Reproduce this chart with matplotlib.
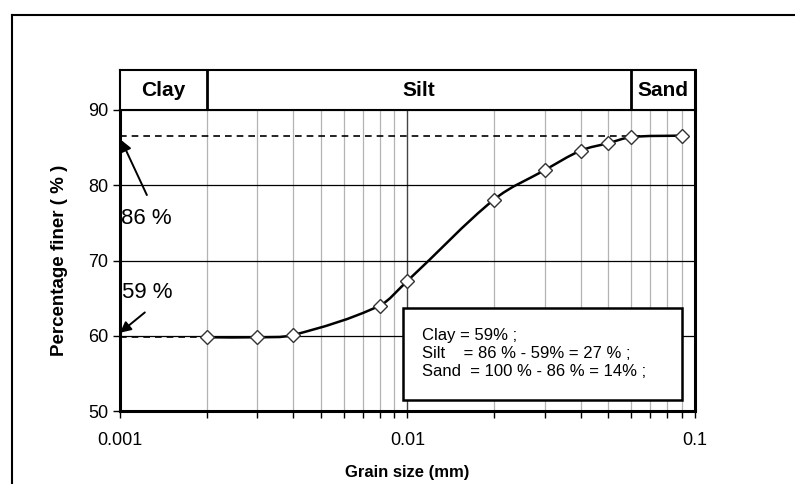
import numpy as np
import matplotlib
matplotlib.use("Agg")
import matplotlib.pyplot as plt
from matplotlib.lines import Line2D
from matplotlib.path import Path
from matplotlib.patches import PathPatch, Rectangle

plt.rcParams['font.family'] = ['Liberation Sans', 'DejaVu Sans']

# Courbe granulométrique (tamisat en % selon le diamètre)
grain_mm = [0.002, 0.003, 0.004, 0.008, 0.01, 0.02, 0.03, 0.04, 0.05, 0.06, 0.09]
finer_pct = [59.8, 59.8, 60.1, 64.0, 67.3, 78.1, 82.0, 84.6, 85.6, 86.4, 86.6]

# Limites des classes de sol
class_names = ["Clay", "Silt", "Sand"]
class_bounds = [0.001, 0.002, 0.06, 0.1]

clay_pct = 59.8
fines_pct = 86.6
box_lines = ["Clay = 59% ;",
             "Silt    = 86 % - 59% = 27 % ;",
             "Sand  = 100 % - 86 % = 14% ;"]


def smooth_path(xs, ys):
    # courbe lissée (Hermite -> Bézier), calculée dans l'espace log(x)
    lx = np.log10(xs)
    y = np.asarray(ys, float)
    n = len(lx)
    m = np.zeros(n)
    m[0] = (y[1] - y[0]) / (lx[1] - lx[0])
    m[-1] = (y[-1] - y[-2]) / (lx[-1] - lx[-2])
    for i in range(1, n - 1):
        m[i] = (y[i + 1] - y[i - 1]) / (lx[i + 1] - lx[i - 1])
    verts = [(lx[0], y[0])]
    codes = [Path.MOVETO]
    for i in range(n - 1):
        h = (lx[i + 1] - lx[i]) / 3.0
        verts += [(lx[i] + h, y[i] + h * m[i]),
                  (lx[i + 1] - h, y[i + 1] - h * m[i + 1]),
                  (lx[i + 1], y[i + 1])]
        codes += [Path.CURVE4] * 3
    verts = np.array(verts)
    verts[:, 0] = 10 ** verts[:, 0]
    return Path(verts, codes)


fig = plt.figure(figsize=(7.95, 4.84), dpi=100)

# cadre extérieur
fig.add_artist(Line2D([12 / 795, 1.0], [1 - 15 / 484, 1 - 15 / 484],
                      transform=fig.transFigure, color="black", lw=1.5))
fig.add_artist(Line2D([12 / 795, 12 / 795], [0.0, 1 - 15 / 484],
                      transform=fig.transFigure, color="black", lw=1.5))

ax = fig.add_axes([120 / 795, 1 - 411 / 484, 575 / 795, 301 / 484])
ax.set_xscale("log")
ax.set_xlim(0.001, 0.1)
ax.set_ylim(50, 90)

# grille
minor = [k * 10.0 ** e for e in (-3, -2) for k in range(2, 10)]
for xv in minor:
    ax.axvline(xv, color="#b4b4b4", lw=0.9, zorder=0)
ax.axvline(0.01, color="#444444", lw=1.0, zorder=0)
for yv in (60, 70, 80):
    ax.axhline(yv, color="black", lw=0.9, zorder=0)

ax.set_xticks([0.001, 0.01, 0.1])
ax.set_xticklabels(["0.001", "0.01", "0.1"])
ax.set_xticks(minor, minor=True)
ax.xaxis.set_minor_formatter(plt.NullFormatter())
ax.set_yticks([50, 60, 70, 80, 90])
ax.tick_params(axis="both", which="both", direction="out", length=5,
               width=1.0, labelsize=13, colors="black")
ax.tick_params(axis="x", pad=10)

for side in ("left", "bottom", "right"):
    ax.spines[side].set_linewidth(2.2)
ax.spines["top"].set_linewidth(1.5)

# lignes de repère
ax.plot([0.001, grain_mm[-1]], [fines_pct, fines_pct], ls=(0, (4, 3)),
        color="black", lw=1.2, zorder=2)
ax.plot([0.001, grain_mm[0]], [clay_pct, clay_pct], ls=(0, (4, 3)),
        color="black", lw=1.2, zorder=2)

ax.add_patch(PathPatch(smooth_path(grain_mm, finer_pct), fc="none",
                       ec="black", lw=1.8, zorder=3))
ax.plot(grain_mm, finer_pct, ls="none", marker="D", ms=7,
        mfc="white", mec="#333333", mew=1.0, zorder=4)

arrow = dict(arrowstyle="-|>", color="black", lw=1.4, mutation_scale=16,
             shrinkA=0, shrinkB=0)
ax.annotate("", xy=(0.00101, 86.0), xytext=(0.00124, 78.7), arrowprops=arrow)
ax.text(0.00101, 75.6, "86 %", fontsize=16, ha="left", va="center")
ax.annotate("", xy=(0.001, 60.4), xytext=(0.00122, 63.1), arrowprops=arrow)
ax.text(0.00102, 65.7, "59 %", fontsize=16, ha="left", va="center")

# encadré des résultats
ax.add_patch(Rectangle((0.00961, 51.5), 0.09 - 0.00961, 63.7 - 51.5,
                       fc="white", ec="black", lw=1.8, zorder=5))
ax.text(0.0112, 57.6, "\n".join(box_lines), fontsize=12, ha="left",
        va="center", linespacing=1.25, zorder=6)

ax.set_xlabel("Grain size (mm)", fontsize=12, fontweight="bold", labelpad=12)
ax.set_ylabel("Percentage finer ( % )", fontsize=13.5, fontweight="bold",
              labelpad=14)

# bandeau des classes
band = fig.add_axes([120 / 795, 1 - 110 / 484, 575 / 795, 40 / 484])
band.set_xscale("log")
band.set_xlim(0.001, 0.1)
band.set_ylim(0, 1)
band.set_xticks([])
band.set_yticks([])
band.minorticks_off()
for s in band.spines.values():
    s.set_linewidth(1.5)
band.spines["right"].set_linewidth(2.2)
for b in class_bounds[1:-1]:
    band.axvline(b, color="black", lw=2.0)
for name, lo, hi in zip(class_names, class_bounds[:-1], class_bounds[1:]):
    band.text(np.sqrt(lo * hi), 0.5, name, ha="center", va="center",
              fontsize=15, fontweight="bold")

fig.savefig("out.png", dpi=100)
